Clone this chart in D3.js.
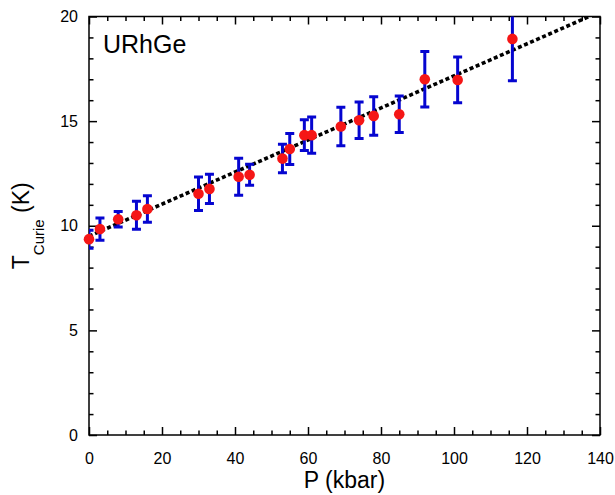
<!DOCTYPE html>
<html>
<head>
<meta charset="utf-8">
<script src="https://cdn.jsdelivr.net/npm/d3@7"></script>
<style>
  html, body { margin: 0; padding: 0; background: #fff; }
  svg { display: block; font-family: "Liberation Sans", Arial, sans-serif; }
</style>
</head>
<body>
<svg id="chart" width="615" height="495"></svg>
<script>
// ---- data ----
const pressure = [0, 3, 8, 13, 16, 30, 33, 41, 44, 53, 55, 59, 61, 69, 74, 78, 85, 92, 101, 116];
const tCurie   = [9.36, 9.84, 10.31, 10.50, 10.80, 11.53, 11.76, 12.34, 12.44, 13.21, 13.67, 14.33, 14.33, 14.74, 15.04, 15.25, 15.33, 17.00, 16.97, 18.93];
const tErr     = [0.43, 0.53, 0.37, 0.67, 0.63, 0.80, 0.70, 0.88, 0.50, 0.68, 0.74, 0.73, 0.87, 0.92, 0.87, 0.92, 0.87, 1.33, 1.09, 2.00];
const fitP     = [0, 137.3];
const fitT     = [9.5, 20.02];
const xMajorTicks = [0, 20, 40, 60, 80, 100, 120, 140];
const yMajorTicks = [0, 5, 10, 15, 20];
const sampleLabel = "URhGe";

// ---- layout ----
const svg = d3.select("#chart");
const L = 89, R = 600, T = 16.5, B = 435;
const x = d3.scaleLinear().domain([0, 140]).range([L, R]);
const y = d3.scaleLinear().domain([0, 20]).range([B, T]);

const xMinor = d3.range(0, 140.001, 5).filter(v => xMajorTicks.indexOf(v) < 0);
const yMinor = d3.range(0, 20.001, 1).filter(v => yMajorTicks.indexOf(v) < 0);

function styleAxis(g) {
  g.select(".domain").remove();
  g.selectAll(".tick line").attr("stroke", "#000").attr("stroke-width", 1.5);
  g.selectAll(".tick text").attr("fill", "#000").attr("font-size", 16)
    .attr("font-family", "'Liberation Sans', Arial, sans-serif");
}

// bottom axis
svg.append("g").attr("transform", `translate(0,${B})`)
  .call(d3.axisBottom(x).tickValues(xMajorTicks).tickSize(-8).tickPadding(18).tickFormat(d3.format("d")))
  .call(styleAxis);
svg.append("g").attr("transform", `translate(0,${B})`)
  .call(d3.axisBottom(x).tickValues(xMinor).tickSize(-4.5).tickFormat(""))
  .call(styleAxis);
// top axis
svg.append("g").attr("transform", `translate(0,${T})`)
  .call(d3.axisTop(x).tickValues(xMajorTicks).tickSize(-8).tickFormat(""))
  .call(styleAxis);
svg.append("g").attr("transform", `translate(0,${T})`)
  .call(d3.axisTop(x).tickValues(xMinor).tickSize(-4.5).tickFormat(""))
  .call(styleAxis);
// left axis
svg.append("g").attr("transform", `translate(${L},0)`)
  .call(d3.axisLeft(y).tickValues(yMajorTicks).tickSize(-8).tickPadding(11).tickFormat(d3.format("d")))
  .call(styleAxis);
svg.append("g").attr("transform", `translate(${L},0)`)
  .call(d3.axisLeft(y).tickValues(yMinor).tickSize(-4.5).tickFormat(""))
  .call(styleAxis);
// right axis
svg.append("g").attr("transform", `translate(${R},0)`)
  .call(d3.axisRight(y).tickValues(yMajorTicks).tickSize(-8).tickFormat(""))
  .call(styleAxis);
svg.append("g").attr("transform", `translate(${R},0)`)
  .call(d3.axisRight(y).tickValues(yMinor).tickSize(-4.5).tickFormat(""))
  .call(styleAxis);

// frame
svg.append("rect").attr("x", L).attr("y", T).attr("width", R - L).attr("height", B - T)
  .attr("fill", "none").attr("stroke", "#000").attr("stroke-width", 1.5);

// clip
svg.append("clipPath").attr("id", "plotclip").append("rect")
  .attr("x", L).attr("y", T).attr("width", R - L).attr("height", B - T);
const plot = svg.append("g").attr("clip-path", "url(#plotclip)");

// fit line
const fitData = fitP.map((p, i) => [p, fitT[i]]);
plot.append("path")
  .datum(fitData)
  .attr("d", d3.line().x(d => x(d[0])).y(d => y(d[1])))
  .attr("fill", "none").attr("stroke", "#000").attr("stroke-width", 3.6)
  .attr("stroke-dasharray", "4,2.6");

// error bars
const pts = pressure.map((p, i) => ({ p, t: tCurie[i], e: tErr[i] }));
const eb = plot.append("g").attr("stroke", "#0505d0").attr("stroke-width", 3);
eb.selectAll("line.v").data(pts).join("line").attr("class", "v")
  .attr("x1", d => x(d.p)).attr("x2", d => x(d.p))
  .attr("y1", d => y(d.t - d.e)).attr("y2", d => y(d.t + d.e));
eb.selectAll("line.ct").data(pts).join("line").attr("class", "ct")
  .attr("x1", d => x(d.p) - 4.5).attr("x2", d => x(d.p) + 4.5)
  .attr("y1", d => y(d.t + d.e)).attr("y2", d => y(d.t + d.e));
eb.selectAll("line.cb").data(pts).join("line").attr("class", "cb")
  .attr("x1", d => x(d.p) - 4.5).attr("x2", d => x(d.p) + 4.5)
  .attr("y1", d => y(d.t - d.e)).attr("y2", d => y(d.t - d.e));

// points
svg.append("g").selectAll("circle").data(pts).join("circle")
  .attr("cx", d => x(d.p)).attr("cy", d => y(d.t)).attr("r", 5.3)
  .attr("fill", "#f51616");

// sample label
svg.append("text").attr("x", 103).attr("y", 53).attr("font-size", 25).attr("fill", "#000")
  .text(sampleLabel);

// x title
svg.append("text").attr("x", (L + R) / 2).attr("y", 488).attr("text-anchor", "middle")
  .attr("font-size", 23).attr("fill", "#000").text("P (kbar)");

// y title
const yt = svg.append("text").attr("transform", `translate(28.5,${(T + B) / 2}) rotate(-90)`)
  .attr("text-anchor", "middle").attr("font-size", 23).attr("fill", "#000");
yt.append("tspan").text("T");
yt.append("tspan").attr("font-size", 15).attr("dy", 15).text("Curie");
yt.append("tspan").attr("dy", -15).text(" (K)");
</script>
</body>
</html>
